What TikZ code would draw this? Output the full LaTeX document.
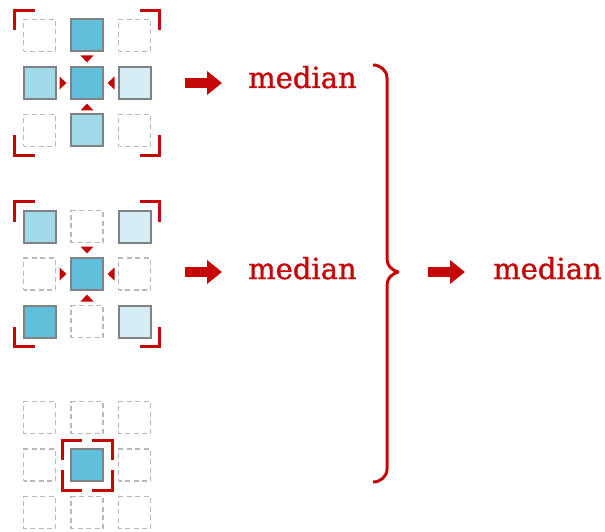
\documentclass[tikz,border=0pt]{standalone}
\usepackage{fontspec}
\setmainfont{DejaVu Serif}
\newfontfamily\lblfont[FakeBold=1.2]{DejaVu Serif}
\usetikzlibrary{arrows.meta}
\definecolor{accent}{RGB}{196,8,8}
\definecolor{cdark}{RGB}{96,192,219}
\definecolor{cmid}{RGB}{160,217,231}
\definecolor{clight}{RGB}{213,237,244}
\definecolor{cedge}{RGB}{130,130,130}
\definecolor{cdash}{RGB}{185,185,185}
\tikzset{
  cell/.style={minimum size=32pt, inner sep=0pt, outer sep=0pt, draw=cedge, line width=2pt},
  dark/.style={cell, fill=cdark},
  mid/.style={cell, fill=cmid},
  light/.style={cell, fill=clight},
  empty/.style={cell, draw=cdash, line width=1.5pt, dash pattern=on 5pt off 3.5pt, dash phase=2pt},
  bracket/.style={draw=accent, line width=3pt},
  pointer/.style={fill=accent},
  fat/.style={draw=accent, line width=10pt, -{Triangle[length=15pt,width=23pt]}},
  lbl/.style={text=accent, font=\lblfont\fontsize{29}{29}\selectfont, inner sep=0pt, anchor=base west},
}
% 3x3 grid of cells centred at the current origin; #1 = prefix, #2 = styles row by row
\newcommand\cellgrid[2]{%
  \foreach \s [count=\i from 0] in {#2} {%
    \pgfmathtruncatemacro\rr{\i/3}%
    \pgfmathtruncatemacro\cc{mod(\i,3)}%
    \node[\s] (#1\rr\cc) at ({(\cc-1)*47.5},{(\rr-1)*47.5}) {};
  }%
}
% four corner brackets of half-size #1 and arm #2
\newcommand\corners[2]{%
  \draw[bracket] (-#1,-#1+#2) -- (-#1,-#1) -- (-#1+#2,-#1);
  \draw[bracket] (#1-#2,-#1) -- (#1,-#1) -- (#1,-#1+#2);
  \draw[bracket] (-#1,#1-#2) -- (-#1,#1) -- (-#1+#2,#1);
  \draw[bracket] (#1-#2,#1) -- (#1,#1) -- (#1,#1-#2);
}
% four small triangles pointing at the centre cell
\newcommand\pointers{%
  \fill[pointer] (-6.5,-27.5) -- (6.5,-27.5) -- (0,-20.5) -- cycle;
  \fill[pointer] (-6.5,27.5) -- (6.5,27.5) -- (0,20.5) -- cycle;
  \fill[pointer] (-27.5,-6.5) -- (-27.5,6.5) -- (-20.5,0) -- cycle;
  \fill[pointer] (27.5,-6.5) -- (27.5,6.5) -- (20.5,0) -- cycle;
}
\begin{document}
\begin{tikzpicture}[x=1pt,y=-1pt]
\useasboundingbox (0,0) rectangle (605,532);

% first neighbourhood: cross
\begin{scope}[shift={(87,83)}]
  \cellgrid{a}{empty,dark,empty,mid,dark,light,empty,mid,empty}
  \corners{72.5}{20}
  \pointers
\end{scope}

% second neighbourhood: diagonals
\begin{scope}[shift={(87,274)}]
  \cellgrid{b}{mid,empty,light,empty,dark,empty,dark,empty,light}
  \corners{72.5}{20}
  \pointers
\end{scope}

% third neighbourhood: single cell
\begin{scope}[shift={(87,465)}]
  \cellgrid{c}{empty,empty,empty,empty,dark,empty,empty,empty,empty}
  \corners{25}{20}
\end{scope}

% arrows and labels
\coordinate (p1s) at (185,83);  \coordinate (p1e) at (222,83);
\coordinate (p2s) at (185,272); \coordinate (p2e) at (222,272);
\coordinate (p3s) at (428,272); \coordinate (p3e) at (465,272);
\draw[fat] (p1s) -- (p1e);
\draw[fat] (p2s) -- (p2e);
\draw[fat] (p3s) -- (p3e);
\node[lbl] (m1) at (248,88) {median};
\node[lbl] (m2) at (248,279) {median};
\node[lbl] (m3) at (493,279) {median};

% brace collecting the two results
\coordinate (bt) at (373,65);
\coordinate (bb) at (373,482);
\coordinate (tip) at (398,272);
\draw[accent, line width=3pt, line join=round]
  (bt) to[out=0,in=90] (387,78) -- (387,259)
  .. controls (387,266) and (392,270) .. (tip)
  .. controls (392,274) and (387,278) .. (387,285)
  -- (387,469) to[out=-90,in=0] (bb);
\end{tikzpicture}
\end{document}
